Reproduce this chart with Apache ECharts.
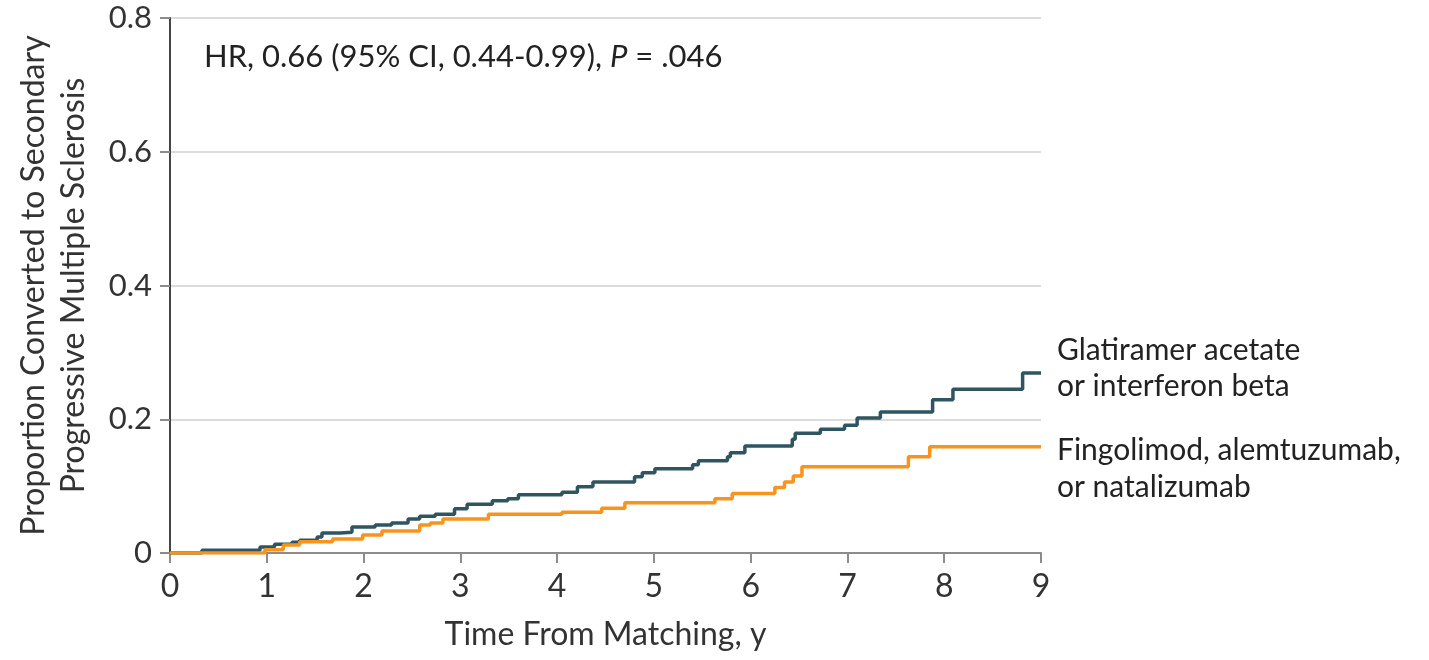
<!DOCTYPE html>
<html>
<head>
<meta charset="utf-8">
<script src="https://cdn.jsdelivr.net/npm/echarts@6/dist/echarts.min.js"></script>
<style>
html,body{margin:0;padding:0;background:#fff;}
#chart{width:1429px;height:660px;}
</style>
</head>
<body>
<div id="chart"></div>
<script>
var FONT = 'Lato, "Open Sans", sans-serif';
var xTicks = [0,1,2,3,4,5,6,7,8,9];
var yTicks = [0,0.2,0.4,0.6,0.8];
var yTickLabels = ['0','0.2','0.4','0.6','0.8'];
var seriesNames = ['Glatiramer acetate\nor interferon beta', 'Fingolimod, alemtuzumab,\nor natalizumab'];
// Kaplan-Meier style cumulative proportions: [time (y), proportion]
var glatiramerData = [
  [0,0],[0.33,0.004],[0.93,0.009],[1.08,0.013],[1.26,0.016],[1.34,0.019],[1.52,0.024],
  [1.57,0.030],[1.76,0.031],[1.88,0.039],[2.12,0.042],[2.29,0.045],[2.46,0.051],
  [2.58,0.055],[2.74,0.058],[2.94,0.066],[3.07,0.073],[3.33,0.078],[3.49,0.081],
  [3.60,0.087],[4.05,0.091],[4.21,0.099],[4.37,0.106],[4.80,0.114],[4.88,0.120],
  [5.01,0.126],[5.40,0.132],[5.46,0.138],[5.76,0.144],[5.79,0.150],[5.94,0.160],
  [6.43,0.170],[6.46,0.179],[6.72,0.185],[6.97,0.191],[7.10,0.202],[7.34,0.211],
  [7.88,0.229],[8.09,0.245],[8.81,0.269],[9.0,0.269]
];
var fingolimodData = [
  [0,0],[0.98,0.005],[1.17,0.012],[1.34,0.017],[1.68,0.021],[1.99,0.027],[2.19,0.033],
  [2.58,0.042],[2.69,0.045],[2.82,0.051],[3.29,0.058],[4.05,0.061],[4.46,0.067],
  [4.70,0.075],[5.63,0.081],[5.81,0.089],[6.25,0.098],[6.35,0.106],[6.44,0.115],
  [6.53,0.129],[7.63,0.144],[7.85,0.159],[9.0,0.159]
];
var colors = ['#2f5561', '#f7941d'];

var chart = echarts.init(document.getElementById('chart'));
chart.setOption({
  animation: false,
  backgroundColor: '#fff',
  grid: {left: 170, right: 388, top: 18, bottom: 107, containLabel: false, outerBoundsMode: 'none'},
  xAxis: {
    type: 'value', min: 0, max: 9, interval: 1,
    name: 'Time From Matching, y', nameLocation: 'middle', nameGap: 66,
    nameTextStyle: {fontFamily: FONT, fontSize: 32, color: '#333'},
    axisLine: {show: true, lineStyle: {color: '#8c8c8c', width: 2}},
    axisTick: {show: true, length: 10, lineStyle: {color: '#8c8c8c', width: 2}},
    axisLabel: {fontFamily: FONT, fontSize: 32, color: '#333', margin: 18,
      formatter: function(v){ return xTicks.indexOf(v) >= 0 ? String(v) : ''; }},
    splitLine: {show: false}
  },
  yAxis: {
    type: 'value', min: 0, max: 0.8, interval: 0.2,
    name: 'Proportion Converted to Secondary\nProgressive Multiple Sclerosis',
    nameLocation: 'middle', nameGap: 76, nameRotate: 90,
    nameTextStyle: {fontFamily: FONT, fontSize: 32, color: '#333', lineHeight: 40},
    axisLine: {show: true, lineStyle: {color: '#444', width: 2}},
    axisTick: {show: true, length: 10, lineStyle: {color: '#8c8c8c', width: 2}},
    axisLabel: {fontFamily: FONT, fontSize: 31, color: '#333', margin: 18,
      formatter: function(v){ var i = yTicks.findIndex(function(t){return Math.abs(t-v)<1e-9;}); return i>=0 ? yTickLabels[i] : ''; }},
    splitLine: {show: true, lineStyle: {color: '#dcdcdc', width: 2}}
  },
  series: [
    {
      name: seriesNames[0], type: 'line', step: 'end', data: glatiramerData,
      showSymbol: false, symbol: 'none',
      lineStyle: {color: colors[0], width: 3.5}, itemStyle: {color: colors[0]},
      endLabel: {show: true, formatter: seriesNames[0], offset: [8, -5],
        fontFamily: FONT, fontSize: 30, lineHeight: 36, color: '#222', align: 'left'}
    },
    {
      name: seriesNames[1], type: 'line', step: 'end', data: fingolimodData,
      showSymbol: false, symbol: 'none',
      lineStyle: {color: colors[1], width: 3.5}, itemStyle: {color: colors[1]},
      endLabel: {show: true, formatter: seriesNames[1], offset: [8, 22],
        fontFamily: FONT, fontSize: 30, lineHeight: 37, color: '#222', align: 'left'}
    }
  ],
  graphic: [{
    type: 'text', left: 204, top: 41,
    style: {
      text: '{n|HR, 0.66 (95% CI, 0.44-0.99), }{i|P}{n| = .046}',
      rich: {
        n: {fontFamily: FONT, fontSize: 31, fill: '#222'},
        i: {fontFamily: FONT, fontSize: 31, fill: '#222', fontStyle: 'italic'}
      }
    }
  }]
});
</script>
</body>
</html>
